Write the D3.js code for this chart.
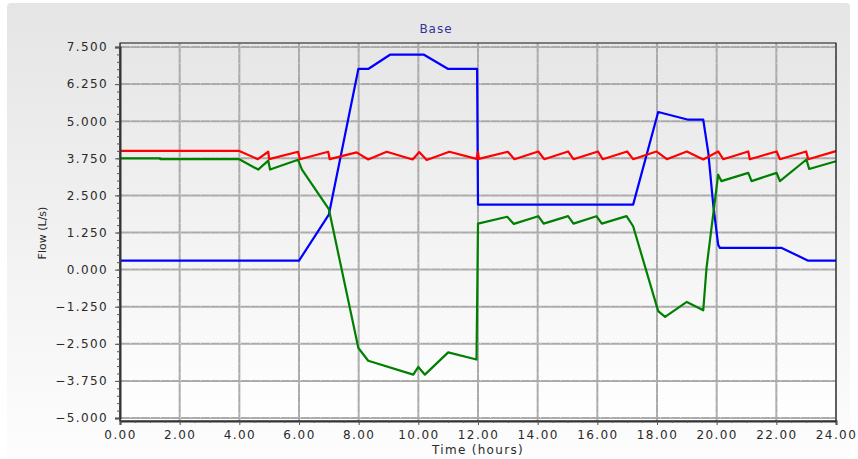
<!DOCTYPE html>
<html>
<head>
<meta charset="utf-8">
<script src="https://cdn.jsdelivr.net/npm/d3@7"></script>
<style>
  body { margin: 0; background: #fff; }
  svg { display: block; }
</style>
</head>
<body>
<svg id="chart" width="858" height="459"></svg>
<script>
// tick values
const hourTicks = [0, 2, 4, 6, 8, 10, 12, 14, 16, 18, 20, 22, 24];
const flowTicks = [-5, -3.75, -2.5, -1.25, 0, 1.25, 2.5, 3.75, 5, 6.25, 7.5];

// red series
const redHours = [0, 4, 4.62, 4.97, 5, 5.97, 6.03, 6.98, 7.03, 7.93, 8.32, 8.94, 9.81, 10.03, 10.28, 11.04, 11.95, 12, 12.03,
  13, 13.22, 14.02, 14.22, 15.02, 15.2, 16.02, 16.18, 17, 17.2, 17.98, 18.33, 19, 19.55, 20.05, 20.22, 21.06, 21.11,
  22.01, 22.12, 23, 23.07, 24];
const redFlow = [4, 4, 3.72, 3.97, 3.72, 3.97, 3.72, 3.97, 3.72, 3.95, 3.71, 3.97, 3.71, 3.96, 3.69, 3.97, 3.73, 3.97, 3.73,
  3.97, 3.72, 3.98, 3.72, 3.98, 3.72, 3.98, 3.72, 3.98, 3.72, 3.98, 3.72, 3.98, 3.71, 3.98, 3.72, 3.98, 3.72,
  3.98, 3.72, 3.98, 3.72, 3.99];

// blue series
const blueHours = [0, 6, 7, 7.99, 8.32, 9.05, 10.19, 11, 11.97, 12, 17.2, 18.04, 19.05, 19.55, 19.72, 19.89, 20.05, 20.11,
  22.18, 23.07, 24];
const blueFlow = [0.3, 0.3, 1.85, 6.76, 6.76, 7.24, 7.24, 6.76, 6.76, 2.19, 2.19, 5.31, 5.05, 5.05, 3.93, 2.13, 0.84, 0.73,
  0.73, 0.3, 0.3];

// green series
const greenHours = [0, 1.35, 1.35, 4, 4.63, 4.97, 5.03, 5.97, 6.1, 7, 7.99, 8.32, 9.83, 10, 10.22, 11, 11.95, 12,
  12.98, 13.2, 14.02, 14.2, 15.02, 15.2, 15.97, 16.15, 16.98, 17.2, 18.04, 18.27, 19, 19.55, 19.66, 20.05, 20.16,
  21.06, 21.17, 22.01, 22.12, 23.01, 23.1, 24];
const greenFlow = [3.75, 3.75, 3.72, 3.72, 3.37, 3.67, 3.37, 3.7, 3.37, 2.04, -2.64, -3.07, -3.54, -3.28, -3.54, -2.79, -3.03, 1.55,
  1.78, 1.54, 1.8, 1.55, 1.8, 1.55, 1.8, 1.55, 1.8, 1.46, -1.4, -1.59, -1.09, -1.37, 0.06, 3.2, 2.98,
  3.26, 2.98, 3.26, 2.98, 3.71, 3.39, 3.65];

const series = [
  { hours: blueHours, flow: blueFlow, color: "#0000ff" },
  { hours: greenHours, flow: greenFlow, color: "#008000" },
  { hours: redHours, flow: redFlow, color: "#ff0000" }
];

const svg = d3.select("#chart");
const font = "'DejaVu Sans', Verdana, sans-serif";

const x = d3.scaleLinear().domain([0, 24]).range([120, 836]);
const y = d3.scaleLinear().domain([-5, 7.5]).range([418, 47]);
const plotTop = 43, plotBottom = 421;

const defs = svg.append("defs");
const outerGrad = defs.append("linearGradient").attr("id", "outerGrad")
  .attr("x1", 0).attr("y1", 0).attr("x2", 0).attr("y2", 1);
outerGrad.append("stop").attr("offset", "0%").attr("stop-color", "#e5e5e5");
outerGrad.append("stop").attr("offset", "100%").attr("stop-color", "#fdfdfd");
const plotGrad = defs.append("linearGradient").attr("id", "plotGrad")
  .attr("x1", 0).attr("y1", 0).attr("x2", 0).attr("y2", 1);
plotGrad.append("stop").attr("offset", "0%").attr("stop-color", "#e6e6e6");
plotGrad.append("stop").attr("offset", "100%").attr("stop-color", "#ffffff");

// panel + plot background
svg.append("rect").attr("x", 7).attr("y", 3).attr("width", 843).attr("height", 456)
  .attr("rx", 4).attr("fill", "url(#outerGrad)");
svg.append("rect").attr("x", x(0)).attr("y", plotTop)
  .attr("width", x(24) - x(0)).attr("height", plotBottom - plotTop)
  .attr("fill", "url(#plotGrad)");

// grid
const grid = svg.append("g");
grid.selectAll(".vgrid").data(hourTicks).enter().append("line")
  .attr("x1", d => x(d)).attr("x2", d => x(d))
  .attr("y1", plotTop).attr("y2", plotBottom)
  .attr("stroke", "#ababab").attr("stroke-width", 2);
grid.selectAll(".hgrid").data(flowTicks).enter().append("line")
  .attr("x1", x(0)).attr("x2", x(24))
  .attr("y1", d => y(d)).attr("y2", d => y(d))
  .attr("stroke", "#ababab").attr("stroke-width", 2);
// light dotted highlights on the grid lines
grid.selectAll(".vdot").data(hourTicks).enter().append("line")
  .attr("x1", d => x(d)).attr("x2", d => x(d))
  .attr("y1", plotTop).attr("y2", plotBottom)
  .attr("stroke", "#d8d8d8").attr("stroke-width", 0.8).attr("stroke-dasharray", "1,9");
grid.selectAll(".hdot").data(flowTicks).enter().append("line")
  .attr("x1", x(0)).attr("x2", x(24))
  .attr("y1", d => y(d) - 0.5).attr("y2", d => y(d) - 0.5)
  .attr("stroke", "#e8e8e8").attr("stroke-width", 0.8).attr("stroke-dasharray", "1,9");

// series lines
const line = d3.line().x(d => x(d[0])).y(d => y(d[1]));
series.forEach(s => {
  svg.append("path")
    .datum(s.hours.map((h, i) => [h, s.flow[i]]))
    .attr("d", line)
    .attr("fill", "none")
    .attr("stroke", s.color)
    .attr("stroke-width", 2.2)
    .attr("stroke-linejoin", "round");
});

// frame
svg.append("rect").attr("x", x(0)).attr("y", plotTop)
  .attr("width", x(24) - x(0)).attr("height", plotBottom - plotTop)
  .attr("fill", "none").attr("stroke", "#111").attr("stroke-width", 1);

// axes
const yAxis = svg.append("g").attr("transform", `translate(${x(0)},0)`)
  .call(d3.axisLeft(y).tickValues(flowTicks).tickFormat(d3.format(".3f")).tickSize(5).tickPadding(7));
const yMinor = d3.range(-5, 7.5001, 0.25);
svg.append("g").attr("transform", `translate(${x(0)},0)`)
  .call(d3.axisLeft(y).tickValues(yMinor).tickFormat("").tickSize(3))
  .call(g => g.select(".domain").remove());

const xAxis = svg.append("g").attr("transform", `translate(0,${plotBottom})`)
  .call(d3.axisBottom(x).tickValues(hourTicks).tickFormat(d3.format(".2f")).tickSize(4).tickPadding(5));
const xMinor = d3.range(0, 24.001, 0.5);
svg.append("g").attr("transform", `translate(0,${plotBottom})`)
  .call(d3.axisBottom(x).tickValues(xMinor).tickFormat("").tickSize(2))
  .call(g => g.select(".domain").remove());

svg.selectAll(".tick line").attr("stroke", "#555");
yAxis.select(".domain").attr("stroke", "#333").attr("stroke-width", 2);
xAxis.select(".domain").attr("stroke", "#333").attr("stroke-width", 2);
svg.selectAll(".tick text")
  .attr("font-family", font).attr("font-size", 12)
  .attr("letter-spacing", 1.4).attr("fill", "#2a2a2a");

// titles
svg.append("text").attr("x", 436).attr("y", 33)
  .attr("text-anchor", "middle").attr("font-family", font).attr("font-size", 12)
  .attr("letter-spacing", 1).attr("fill", "#33339a").text("Base");

svg.append("text").attr("x", 478).attr("y", 454)
  .attr("text-anchor", "middle").attr("font-family", font).attr("font-size", 12)
  .attr("letter-spacing", 1.3).attr("fill", "#2a2a2a").text("Time (hours)");

svg.append("text").attr("transform", "translate(46,233) rotate(-90)")
  .attr("text-anchor", "middle").attr("font-family", font).attr("font-size", 11)
  .attr("fill", "#2a2a2a").text("Flow (L/s)");
</script>
</body>
</html>
